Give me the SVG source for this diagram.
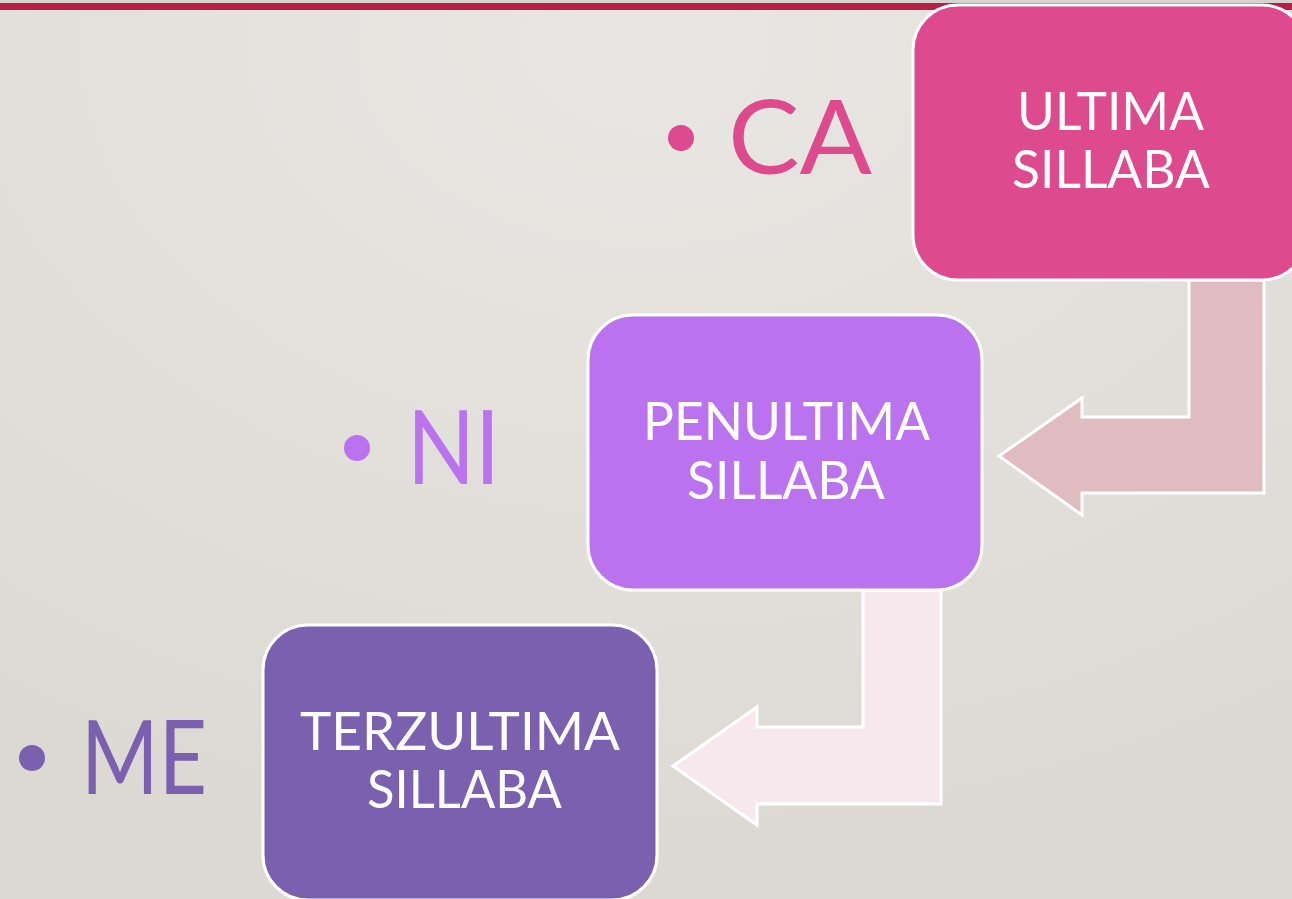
<svg xmlns="http://www.w3.org/2000/svg" width="1292" height="899" viewBox="0 0 1292 899">
  <defs>
    <radialGradient id="bg" cx="0.5" cy="0.05" r="0.95">
      <stop offset="0" stop-color="#e9e7e3"/>
      <stop offset="1" stop-color="#dcd9d3"/>
    </radialGradient>
  </defs>
  <style>
    .box { stroke: #ffffff; stroke-width: 3; }
    .arrow { stroke: #ffffff; stroke-width: 3; stroke-linejoin: miter; }
    .lbl { font-family: Lato, "Liberation Sans", sans-serif; font-size: 53px; fill: #ffffff; text-anchor: start; }
    .big { font-family: Lato, "Liberation Sans", sans-serif; font-size: 102px; }
  </style>
  <rect x="0" y="0" width="1292" height="899" fill="url(#bg)"/>
  <rect x="0" y="0" width="1292" height="3" fill="#d6d3cf"/>
  <rect x="0" y="3" width="1292" height="7" fill="#b81e44"/>

  <g id="connectors">
    <polygon class="arrow" fill="#e0bcc1" points="1189,280 1264,280 1264,493 1082,493 1082,515 999,456 1082,398 1082,417 1189,417"/>
    <polygon class="arrow" fill="#f7e8ee" points="863,590 941,590 941,804 757,804 757,825 673,766 757,707 757,727 863,727"/>
  </g>

  <g id="node-ultima">
    <rect class="box" x="913" y="5" width="394" height="275" rx="45" ry="45" fill="#de4a8e"/>
    <text class="lbl" x="1017" y="130" textLength="187" lengthAdjust="spacingAndGlyphs">ULTIMA</text>
    <text class="lbl" x="1012" y="188" textLength="198" lengthAdjust="spacingAndGlyphs">SILLABA</text>
  </g>

  <g id="node-penultima">
    <rect class="box" x="588" y="315" width="394" height="275" rx="45" ry="45" fill="#bb72ef"/>
    <text class="lbl" x="643" y="440" textLength="287" lengthAdjust="spacingAndGlyphs">PENULTIMA</text>
    <text class="lbl" x="687" y="499" textLength="198" lengthAdjust="spacingAndGlyphs">SILLABA</text>
  </g>

  <g id="node-terzultima">
    <rect class="box" x="263" y="625" width="394" height="275" rx="45" ry="45" fill="#7a60af"/>
    <text class="lbl" x="300" y="750" textLength="320" lengthAdjust="spacingAndGlyphs">TERZULTIMA</text>
    <text class="lbl" x="367" y="808" textLength="195" lengthAdjust="spacingAndGlyphs">SILLABA</text>
  </g>

  <g id="bullet-ca" fill="#de4a8e">
    <circle cx="681" cy="138" r="13"/>
    <text class="big" x="728" y="174" textLength="144" lengthAdjust="spacingAndGlyphs">CA</text>
  </g>
  <g id="bullet-ni" fill="#bb72ef">
    <circle cx="357" cy="448" r="13"/>
    <text class="big" x="407" y="484" textLength="93" lengthAdjust="spacingAndGlyphs">NI</text>
  </g>
  <g id="bullet-me" fill="#7a60af">
    <circle cx="32" cy="758" r="13"/>
    <text class="big" x="81" y="794" textLength="126" lengthAdjust="spacingAndGlyphs">ME</text>
  </g>
</svg>
